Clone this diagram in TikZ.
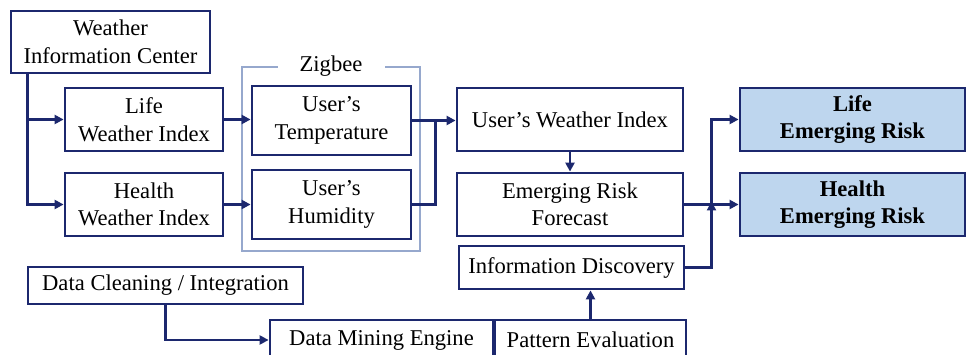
\documentclass[tikz,border=0pt]{standalone}
\usepackage{fontspec}
\setmainfont{Liberation Serif}
\usetikzlibrary{arrows.meta,calc}
\definecolor{navy}{RGB}{28,40,110}
\definecolor{zig}{RGB}{150,168,205}
\definecolor{riskfill}{RGB}{190,214,238}
\begin{document}
\begin{tikzpicture}[x=1pt,y=-1pt,
  box/.style={draw=navy,line width=2.8pt,fill=white,align=center,inner sep=0pt,
    font=\fontsize{22.6}{27.5}\selectfont},
  risk/.style={box,fill=riskfill,font=\fontsize{22.6}{27.5}\selectfont\bfseries},
  conn/.style={draw=navy,line width=2.8pt,-{Triangle[length=9pt,width=9pt]}},
  plain/.style={draw=navy,line width=2.8pt}]
\useasboundingbox (0,0) rectangle (967,355);
% Zigbee frame
\draw[zig,line width=1.2pt] (242,67) rectangle (420,251);
\node[fill=white,inner sep=0pt,minimum width=107pt,minimum height=20pt,
  font=\fontsize{22.6}{27.5}\selectfont] (zigbee) at (331,66) {Zigbee};
% nodes
\node[box,minimum width=199pt,minimum height=62pt] (wic) at (110.5,42) {Weather\\Information Center};
\node[box,minimum width=158pt,minimum height=63pt] (lwi) at (144,119.5) {Life\\Weather Index};
\node[box,minimum width=158pt,minimum height=63pt] (hwi) at (144,204.5) {Health\\Weather Index};
\node[box,minimum width=159pt,minimum height=69pt] (temp) at (331.5,120.5) {User’s\\Temperature};
\node[box,minimum width=159pt,minimum height=69pt] (hum) at (331.5,204.5) {User’s\\Humidity};
\node[box,minimum width=226pt,minimum height=63pt] (uwi) at (570,119.5) {User’s Weather Index};
\node[box,minimum width=226pt,minimum height=63pt] (erf) at (570,204.5) {Emerging Risk\\Forecast};
\node[box,minimum width=225pt,minimum height=43pt] (idisc) at (571.5,267.5) {Information Discovery};
\node[risk,minimum width=225pt,minimum height=63pt] (lrisk) at (852.5,119.5) {Life\\Emerging Risk};
\node[risk,minimum width=225pt,minimum height=63pt] (hrisk) at (852.5,204.5) {Health\\Emerging Risk};
\node[box,minimum width=275pt,minimum height=37pt] (dci) at (165.5,285.5) {Data Cleaning / Integration};
\node[box,minimum width=223pt,minimum height=40pt] (dme) at (381.5,340) {Data Mining Engine};
\node[box,minimum width=191pt,minimum height=40pt] (pe) at (590.5,340) {Pattern Evaluation};
% connectors
\coordinate (wicdown) at ([xshift=18pt]wic.south west);
\draw[conn] (wicdown) |- (hwi.west);
\draw[conn] (wicdown |- lwi.west) -- (lwi.west);
\draw[conn] (lwi.east) -- (lwi.east -| temp.west);
\draw[conn] (hwi.east) -- (hwi.east -| hum.west);
\draw[conn] (temp.east) -- (temp.east -| uwi.west);
\coordinate (tj) at ([xshift=23pt]temp.east);
\draw[plain] (hum.east) -| (tj);
\draw[conn] (uwi.south) -- (erf.north);
\coordinate (rj) at ($(erf.east)!0.5!(hrisk.west)$);
\draw[conn] (erf.east) -- (hrisk.west);
\draw[conn] (rj) |- (lrisk.west);
\draw[conn] (idisc.east) -| ([yshift=3pt]rj);
\draw[conn] (dci.south) |- (dme.west);
\draw[conn] (pe.north) -- (pe.north |- idisc.south);
\end{tikzpicture}
\end{document}
